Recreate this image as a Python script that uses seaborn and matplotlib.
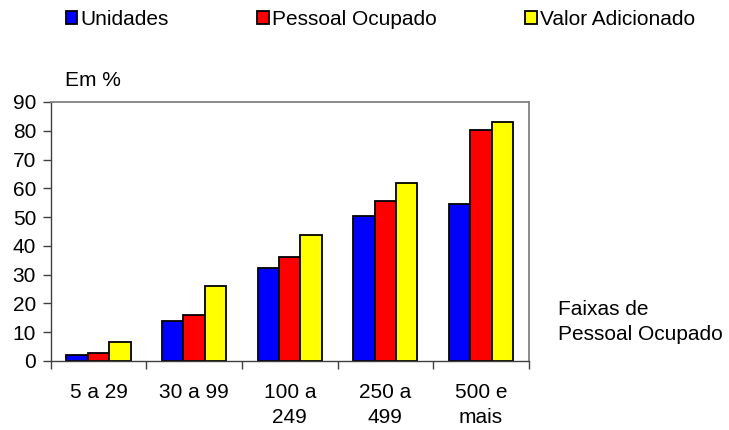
import matplotlib
matplotlib.use("Agg")
import matplotlib.pyplot as plt
import seaborn as sns
import pandas as pd
from matplotlib.patches import Patch

categories = ["5 a 29", "30 a 99", "100 a\n249", "250 a\n499", "500 e\nmais"]
series_names = ["Unidades", "Pessoal Ocupado", "Valor Adicionado"]
unidades = [2.1, 14.0, 32.3, 50.4, 54.6]
pessoal = [2.8, 16.1, 36.1, 55.6, 80.3]
valor = [6.6, 26.2, 43.8, 61.8, 83.0]
colors = ["#0000FF", "#FF0000", "#FFFF00"]
yticks = [0, 10, 20, 30, 40, 50, 60, 70, 80, 90]

rows = []
for name, vals in zip(series_names, [unidades, pessoal, valor]):
    for c, v in zip(categories, vals):
        rows.append({"cat": c, "serie": name, "val": v})
df = pd.DataFrame(rows)

FS = 15

sns.set_style("white")
plt.rcParams["font.family"] = ["Liberation Sans", "DejaVu Sans"]
plt.rcParams["font.size"] = FS
plt.rcParams["text.color"] = "black"
plt.rcParams["xtick.color"] = "black"
plt.rcParams["ytick.color"] = "black"

fig = plt.figure(figsize=(7.29, 4.30), dpi=100)
ax = fig.add_axes([0.0695, 0.1605, 0.656, 0.6023])

sns.barplot(data=df, x="cat", y="val", hue="serie", order=categories,
            hue_order=series_names, palette=colors, width=0.67, gap=0,
            edgecolor="black", linewidth=1.3, saturation=1, ax=ax, legend=False)

ax.set_xlim(-0.5, 4.5)
ax.set_ylim(0, 90)
ax.set_yticks(yticks)
ax.set_xlabel("")
ax.set_ylabel("")

for side in ["top", "right"]:
    ax.spines[side].set_color("#808080")
    ax.spines[side].set_linewidth(1.3)
for side in ["left", "bottom"]:
    ax.spines[side].set_color("#404040")
    ax.spines[side].set_linewidth(1.0)

ax.tick_params(axis="y", which="major", left=True, length=5.5, width=1.0,
               color="#404040", labelcolor="black", pad=5, labelsize=FS)
ax.set_xticks([-0.5, 0.5, 1.5, 2.5, 3.5, 4.5], minor=True)
ax.tick_params(axis="x", which="minor", bottom=True, length=5.5, width=1.0, color="#404040")
ax.tick_params(axis="x", which="major", bottom=False, length=0, pad=15.5,
               labelsize=FS, labelcolor="black")
for lbl in ax.get_xticklabels():
    lbl.set_linespacing(1.4)

handles = [Patch(facecolor=c, edgecolor="black", linewidth=1.3) for c in colors]
fig.legend(handles, series_names, loc="upper left", bbox_to_anchor=(0.073, 1.006),
           ncol=3, frameon=False, handlelength=0.55, handleheight=0.6,
           handletextpad=0.15, columnspacing=4.25, fontsize=FS, borderaxespad=0.2)

fig.text(65 / 729, 1 - 80 / 430, "Em %", ha="left", va="center", fontsize=FS)
fig.text(558 / 729, 1 - 322 / 430, "Faixas de\nPessoal Ocupado", ha="left",
         va="center", fontsize=FS, linespacing=1.4)

fig.savefig("out.png", dpi=100)
